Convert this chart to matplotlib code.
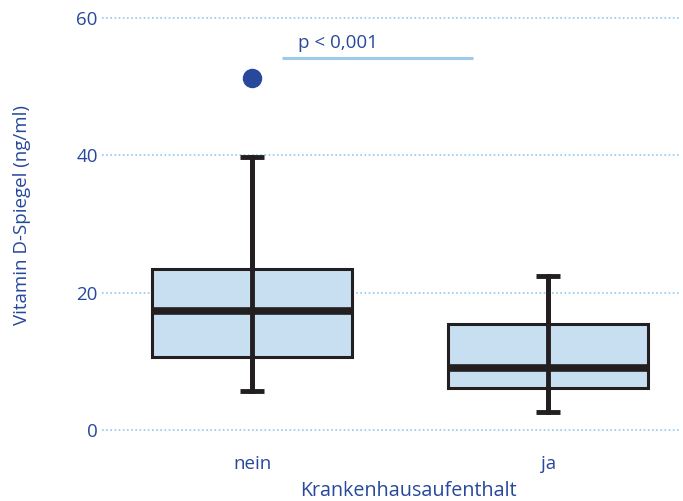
import matplotlib
matplotlib.use("Agg")
import matplotlib.pyplot as plt

plt.rcParams['font.family'] = ['Open Sans', 'DejaVu Sans']

# Boxplot-Kennwerte je Gruppe (ng/ml)
gruppen = ["nein", "ja"]
q1 = [10.6, 6.1]
median = [17.3, 9.0]
q3 = [23.4, 15.4]
whisker_lo = [5.7, 2.6]
whisker_hi = [39.7, 22.4]
ausreisser = [[51.2], []]

yticks = [0, 20, 40, 60]
p_text = "p < 0,001"
p_line = (0.10, 0.745, 54.2)

blau = "#27489b"
hellblau = "#94c8ee"
fuell = "#c8dff2"
dunkel = "#231f20"

fig = plt.figure(figsize=(6.83, 5.01), dpi=100)
# y: 0 -> 430 px, 60 -> 18 px von oben
ppu = (430 - 18) / 60
y0, y1 = -3, 62
top_px = 430 - y1 * ppu
bot_px = 430 - y0 * ppu
h_px = bot_px - top_px
ax = fig.add_axes([102 / 683, 1 - bot_px / 501, (681 - 102) / 683, h_px / 501])

stats = []
for i, name in enumerate(gruppen):
    stats.append(dict(label=name, q1=q1[i], med=median[i], q3=q3[i],
                      whislo=whisker_lo[i], whishi=whisker_hi[i], fliers=ausreisser[i]))

pos = list(range(len(gruppen)))
ax.bxp(stats, positions=pos, widths=0.676, capwidths=0.082, patch_artist=True,
       boxprops=dict(facecolor=fuell, edgecolor=dunkel, linewidth=2.2),
       medianprops=dict(color=dunkel, linewidth=5.5, solid_capstyle='butt'),
       whiskerprops=dict(color=dunkel, linewidth=3.5),
       capprops=dict(color=dunkel, linewidth=3.5, solid_capstyle='butt'),
       flierprops=dict(marker='o', markersize=13, markerfacecolor=blau,
                       markeredgecolor=blau),
       zorder=3)
# Whisker-Linie durchgehend durch die Box
ax.vlines(pos, whisker_lo, whisker_hi, color=dunkel, linewidth=3.5, zorder=4)

# Signifikanzlinie
ax.plot([p_line[0], p_line[1]], [p_line[2], p_line[2]], color="#9ccbea",
        linewidth=2.2, solid_capstyle='butt')
ax.text(0.29, 55.1, p_text, ha='center', va='bottom', color=blau, fontsize=13.5)

ax.set_xlim(-0.507, 1.449)
ax.set_ylim(y0, y1)
ax.set_yticks(yticks)
ax.set_xticks(pos)
ax.set_xticklabels(gruppen)
ax.yaxis.grid(True, linestyle=(0, (1, 1.5)), color=hellblau, linewidth=1.2)
ax.set_axisbelow(True)
for s in ax.spines.values():
    s.set_visible(False)
ax.tick_params(axis='y', length=0, pad=3, labelcolor=blau, labelsize=13.5)
ax.tick_params(axis='x', length=0, pad=3.5, labelcolor=blau, labelsize=13.5)
ax.set_xlabel("Krankenhausaufenthalt", color=blau, fontsize=14.2)
ax.xaxis.set_label_coords((408 - 102) / 579, (bot_px - 481) / h_px)
ax.set_ylabel("Vitamin D-Spiegel (ng/ml)", color=blau, fontsize=13.5)
ax.yaxis.set_label_coords((31 - 102) / 579, (bot_px - 215) / h_px)

fig.savefig("out.png", dpi=100)
